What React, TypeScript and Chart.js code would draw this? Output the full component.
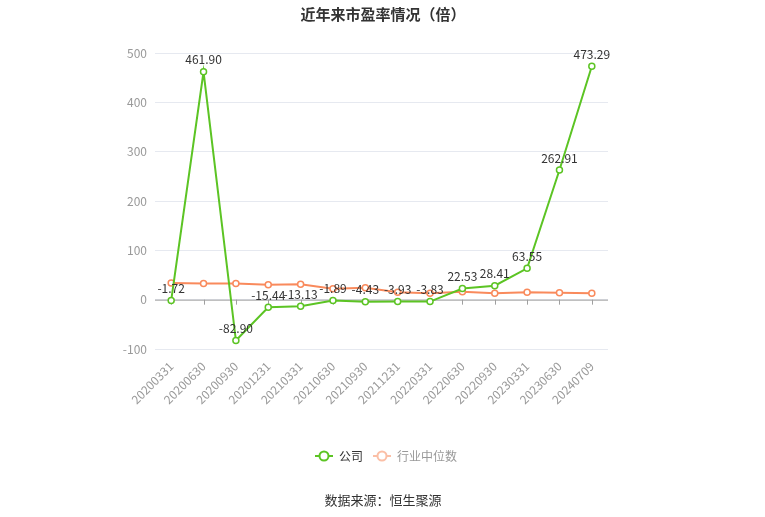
import { useEffect, useRef } from 'react'
import { Chart, registerables } from 'chart.js'
Chart.register(...registerables)

const CATS = ['20200331','20200630','20200930','20201231','20210331','20210630','20210930','20211231','20220331','20220630','20220930','20230331','20230630','20240709']
const COMPANY = [-1.72, 461.90, -82.90, -15.44, -13.13, -1.89, -4.43, -3.93, -3.83, 22.53, 28.41, 63.55, 262.91, 473.29]
const INDUSTRY = [34, 33, 33, 30, 31, 22, 24, 15, 13, 16, 13, 15, 14, 13]
const Y_TICKS = [-100, 0, 100, 200, 300, 400, 500]

const GREEN = '#5cc424'
const ORANGE = '#f98a5c'
const FONT = "'Noto Sans CJK SC', 'Noto Sans', sans-serif"

const extras = {
  id: 'extras',
  beforeDatasetsDraw(chart: any) {
    const { ctx, scales: { x, y } } = chart
    const y0 = y.getPixelForValue(0)
    ctx.save()
    ctx.strokeStyle = '#a0a0a0'; ctx.lineWidth = 1
    ctx.beginPath(); ctx.moveTo(chart.chartArea.left, y0 + 0.5); ctx.lineTo(chart.chartArea.right, y0 + 0.5); ctx.stroke()
    CATS.forEach((_, i) => {
      const px = Math.round(x.getPixelForValue(i)) + 0.5
      ctx.beginPath(); ctx.moveTo(px, y0); ctx.lineTo(px, y0 + 5); ctx.stroke()
    })
    ctx.restore()
  },
  afterDraw(chart: any) {
    const { ctx, scales: { x, y } } = chart
    ctx.save()
    // value labels
    ctx.font = `12px ${FONT}`; ctx.fillStyle = '#333'; ctx.textAlign = 'center'; ctx.textBaseline = 'bottom'
    COMPANY.forEach((v, i) => {
      ctx.fillText(v.toFixed(2), x.getPixelForValue(i), y.getPixelForValue(v) - 6)
    })
    // title
    ctx.font = `bold 15px ${FONT}`; ctx.fillStyle = '#333'; ctx.textBaseline = 'middle'
    ctx.fillText('近年来市盈率情况（倍）', 383, 14)
    // legend
    const legend = [
      { x: 315, color: GREEN, text: '公司', tc: '#333' },
      { x: 373, color: '#fbbfa6', text: '行业中位数', tc: '#999' },
    ]
    const ly = 456
    legend.forEach(l => {
      ctx.strokeStyle = l.color; ctx.lineWidth = 2
      ctx.beginPath(); ctx.moveTo(l.x, ly); ctx.lineTo(l.x + 18, ly); ctx.stroke()
      ctx.fillStyle = '#fff'
      ctx.beginPath(); ctx.arc(l.x + 9, ly, 4.5, 0, Math.PI * 2); ctx.fill(); ctx.stroke()
      ctx.font = `12px ${FONT}`; ctx.fillStyle = l.tc; ctx.textAlign = 'left'
      ctx.fillText(l.text, l.x + 24, ly)
    })
    // source
    ctx.font = `13px ${FONT}`; ctx.fillStyle = '#333'; ctx.textAlign = 'center'
    ctx.fillText('数据来源：恒生聚源', 383, 500)
    ctx.restore()
  },
}

export default function App() {
  const ref = useRef<HTMLCanvasElement>(null)
  const chartRef = useRef<Chart | null>(null)

  useEffect(() => {
    if (chartRef.current) chartRef.current.destroy()
    if (!ref.current) return
    const tc = '#999'
    chartRef.current = new Chart(ref.current, {
      type: 'line',
      data: {
        labels: CATS,
        datasets: [
          { label: '公司', data: COMPANY, borderColor: GREEN, backgroundColor: '#fff', borderWidth: 2, pointRadius: 3, pointBorderWidth: 1.5, pointBackgroundColor: '#fff', pointBorderColor: GREEN, tension: 0 },
          { label: '行业中位数', data: INDUSTRY, borderColor: ORANGE, backgroundColor: '#fff', borderWidth: 2, pointRadius: 3, pointBorderWidth: 1.5, pointBackgroundColor: '#fff', pointBorderColor: ORANGE, tension: 0 },
        ],
      },
      options: {
        responsive: true, maintainAspectRatio: false, animation: false,
        layout: { padding: { left: 0, right: 157, top: 53, bottom: 88 } },
        plugins: { legend: { display: false }, tooltip: { enabled: false } },
        scales: {
          x: {
            offset: true,
            grid: { display: false },
            border: { display: false },
            ticks: { color: tc, minRotation: 45, maxRotation: 45, padding: 2, font: { size: 12, family: FONT } },
            afterFit: (s: any) => { s.height = 80 },
          },
          y: {
            min: -100, max: 500,
            afterBuildTicks: (s: any) => { s.ticks = Y_TICKS.map(v => ({ value: v })) },
            grid: { color: '#e6e9f0', drawTicks: false },
            border: { display: false },
            ticks: { color: tc, padding: 8, font: { size: 12, family: FONT } },
            afterFit: (s: any) => { s.width = 155 },
          },
        },
      },
      plugins: [extras],
    })
    return () => { chartRef.current?.destroy() }
  }, [])

  return (
    <div style={{ position: 'fixed', left: 0, top: 0, width: 765, height: 517, background: '#fff' }}>
      <canvas ref={ref} />
    </div>
  )
}
